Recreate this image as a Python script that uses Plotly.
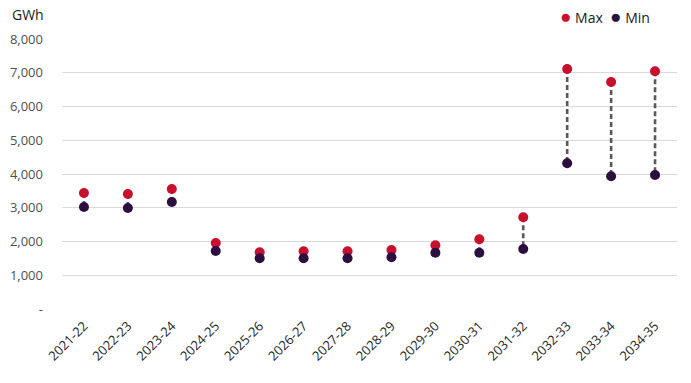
import plotly.graph_objects as go

categories = ["2021-22", "2022-23", "2023-24", "2024-25", "2025-26", "2026-27", "2027-28",
              "2028-29", "2029-30", "2030-31", "2031-32", "2032-33", "2033-34", "2034-35"]
max_vals = [3437, 3407, 3555, 1955, 1680, 1710, 1710, 1748, 1887, 2065, 2716, 7111, 6726, 7042]
min_vals = [3022, 2993, 3170, 1718, 1502, 1502, 1502, 1531, 1668, 1668, 1778, 4316, 3931, 3970]
y_ticks = [0, 1000, 2000, 3000, 4000, 5000, 6000, 7000, 8000]
y_tick_text = ["-", "1,000", "2,000", "3,000", "4,000", "5,000", "6,000", "7,000", "8,000"]

MAX_COLOR = "#C8102E"
MIN_COLOR = "#2D0F3F"
FONT = "Open Sans, Noto Sans, sans-serif"

cx, cy = [], []
for c, hi, lo in zip(categories, max_vals, min_vals):
    cx += [c, c, None]
    cy += [hi, lo, None]

fig = go.Figure()
fig.add_trace(go.Scatter(x=cx, y=cy, mode="lines", showlegend=False, hoverinfo="skip",
                         line=dict(color="#595959", width=2.6, dash="5px,3px")))
fig.add_trace(go.Scatter(x=categories, y=max_vals, mode="markers", name="Max", showlegend=False,
                         marker=dict(color=MAX_COLOR, size=10)))
fig.add_trace(go.Scatter(x=categories, y=min_vals, mode="markers", name="Min", showlegend=False,
                         marker=dict(color=MIN_COLOR, size=10)))

legend_text = (f"<span style='color:{MAX_COLOR};font-size:19px'>●</span> Max  "
               f"<span style='color:{MIN_COLOR};font-size:19px'>●</span> Min")

fig.update_layout(
    width=691, height=383,
    margin=dict(l=62, r=14, t=39, b=74, autoexpand=False),
    paper_bgcolor="white", plot_bgcolor="white",
    font=dict(family=FONT, size=13, color="#404040"),
    xaxis=dict(type="category", range=[-0.5, len(categories) - 0.5],
               showgrid=False, showline=False, zeroline=False, ticklabelstandoff=6,
               automargin=False, tickangle=-45, tickfont=dict(size=13, color="#262626"), ticks=""),
    yaxis=dict(range=[0, 8000], tickvals=y_ticks, ticktext=y_tick_text, automargin=False,
               showgrid=True, gridcolor="#d9d9d9", gridwidth=1, zeroline=False,
               showline=False, ticklabelstandoff=18,
               tickfont=dict(size=13, color="#505050")),
    annotations=[
        dict(text="GWh", xref="paper", yref="paper", x=0, xshift=-52, y=1.0,
             yshift=25, xanchor="left", yanchor="middle", showarrow=False,
             font=dict(family=FONT, size=14, color="#1a1a1a")),
        dict(text=legend_text, xref="paper", yref="paper", x=1.0, xshift=-25, y=1.0,
             yshift=23, xanchor="right", yanchor="middle", showarrow=False,
             font=dict(family=FONT, size=14, color="#1a1a1a")),
    ],
)

fig.write_html("out.html", config={"displayModeBar": False},
               post_script="document.body.style.margin='0';document.body.style.overflow='hidden';")
